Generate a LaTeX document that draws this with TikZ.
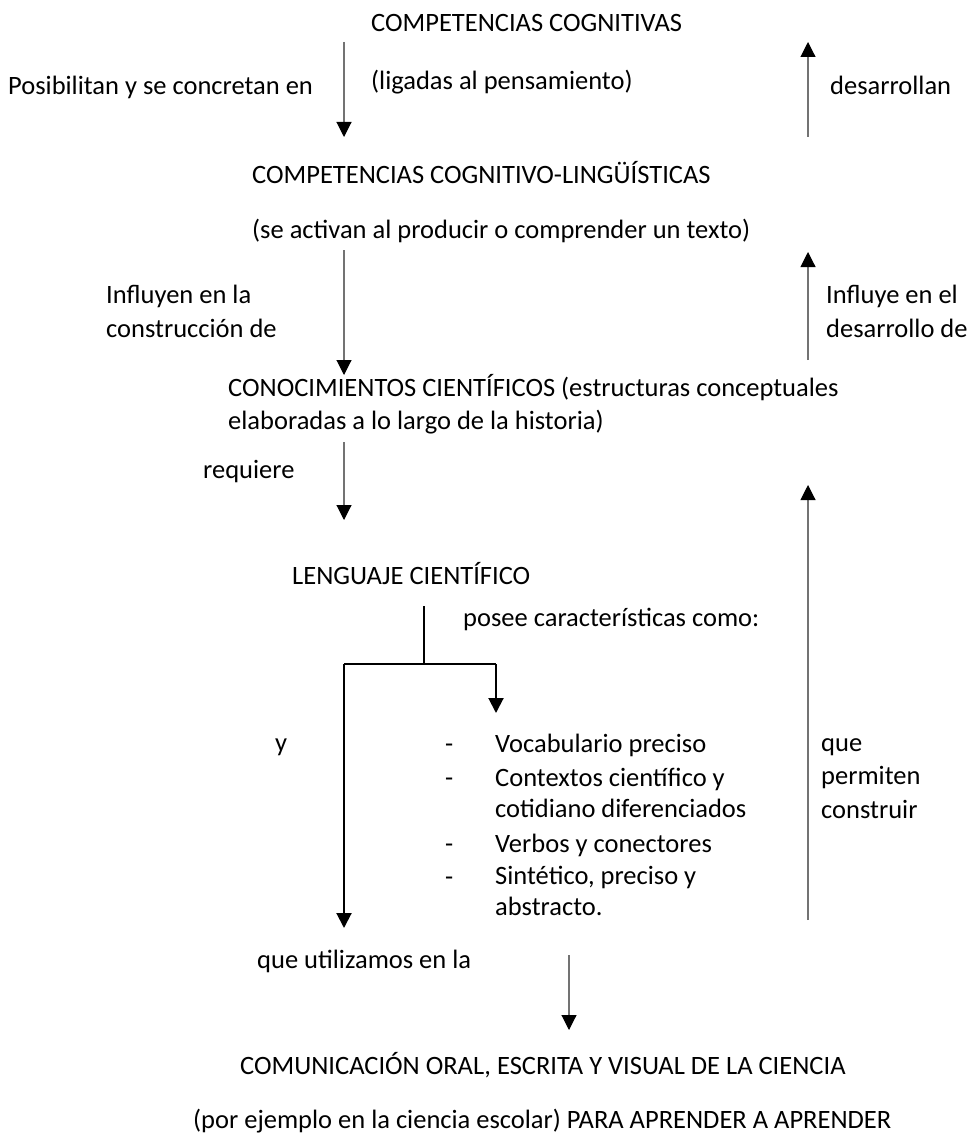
\documentclass[tikz,border=0pt]{standalone}
\usepackage{fontspec}
\setmainfont{Carlito}
\usetikzlibrary{arrows.meta}
\tikzset{
  lbl/.style={anchor=base west, inner sep=0pt, align=left, font=\fontsize{26.5}{34}\selectfont},
  listitem/.style={lbl, font=\fontsize{26.5}{31}\selectfont},
  thinarrow/.style={draw=black!55, line width=1.1pt, -{Triangle[width=15pt,length=15pt,color=black,fill=black]}},
  boldline/.style={draw=black, line width=2pt},
  boldarrow/.style={boldline, -{Triangle[width=15pt,length=15pt]}}
}
\begin{document}
\begin{tikzpicture}[x=1pt,y=-1pt]
\useasboundingbox (0,0) rectangle (973,1142);
% texts (anchor at baseline of last line)
\node[lbl] (cc) at (371,32) {COMPETENCIAS COGNITIVAS};
\node[lbl] (pos) at (8,95) {Posibilitan y se concretan en};
\node[lbl] (lig) at (371,90) {(ligadas al pensamiento)};
\node[lbl] (des) at (830,95) {desarrollan};
\node[lbl] (ccl) at (252,183) {COMPETENCIAS COGNITIVO-LINGÜÍSTICAS};
\node[lbl] (act) at (252,238) {(se activan al producir o comprender un texto)};
\node[lbl] (inf) at (106,337) {Influyen en la\\construcción de};
\node[lbl] (infe) at (826,337) {Influye en el\\desarrollo de};
\node[lbl, font=\fontsize{26.5}{33}\selectfont] (con) at (228,429) {CONOCIMIENTOS CIENTÍFICOS (estructuras conceptuales\\elaboradas a lo largo de la historia)};
\node[lbl] (req) at (203,478) {requiere};
\node[lbl] (len) at (292,584) {LENGUAJE CIENTÍFICO};
\node[lbl] (pos2) at (463,626) {posee características como:};
\node[lbl] (y) at (275,751) {y};
\node[lbl] (d1) at (445,752) {-};
\node[lbl] (i1) at (495,752) {Vocabulario preciso};
\node[lbl] (d2) at (445,786) {-};
\node[listitem] (i2) at (495,817) {Contextos científico y\\cotidiano diferenciados};
\node[lbl] (d3) at (445,852) {-};
\node[lbl] (i3) at (495,852) {Verbos y conectores};
\node[lbl] (d4) at (445,885) {-};
\node[listitem] (i4) at (495,915) {Sintético, preciso y\\abstracto.};
\node[lbl, font=\fontsize{26.5}{33.5}\selectfont] (que) at (821,818) {que\\permiten\\construir};
\node[lbl] (uti) at (257,968) {que utilizamos en la};
\node[lbl] (com) at (240,1074) {COMUNICACIÓN ORAL, ESCRITA Y VISUAL DE LA CIENCIA};
\node[lbl] (ej) at (193,1128) {(por ejemplo en la ciencia escolar) PARA APRENDER A APRENDER};
% arrow coordinates
\coordinate (a1s) at (344,42);  \coordinate (a1e) at (344,137);
\coordinate (a2s) at (808,137); \coordinate (a2e) at (808,42);
\coordinate (a3s) at (344,250); \coordinate (a3e) at (344,375);
\coordinate (a4s) at (808,360); \coordinate (a4e) at (808,252);
\coordinate (a5s) at (344,442); \coordinate (a5e) at (344,520);
\coordinate (a6s) at (808,920); \coordinate (a6e) at (808,485);
\coordinate (a7s) at (569,955); \coordinate (a7e) at (569,1030);
\coordinate (bt) at (424,606); \coordinate (bj) at (424,664);
\coordinate (bl) at (344,664); \coordinate (br) at (496,664);
\coordinate (ble) at (344,928); \coordinate (bre) at (496,713);
\draw[thinarrow] (a1s) -- (a1e);
\draw[thinarrow] (a2s) -- (a2e);
\draw[thinarrow] (a3s) -- (a3e);
\draw[thinarrow] (a4s) -- (a4e);
\draw[thinarrow] (a5s) -- (a5e);
\draw[thinarrow] (a6s) -- (a6e);
\draw[thinarrow] (a7s) -- (a7e);
\draw[boldline] (bt) -- (bj);
\draw[boldline] (bl) -- (br);
\draw[boldarrow] (br) -- (bre);
\draw[boldarrow] (bl) -- (ble);
\end{tikzpicture}
\end{document}
